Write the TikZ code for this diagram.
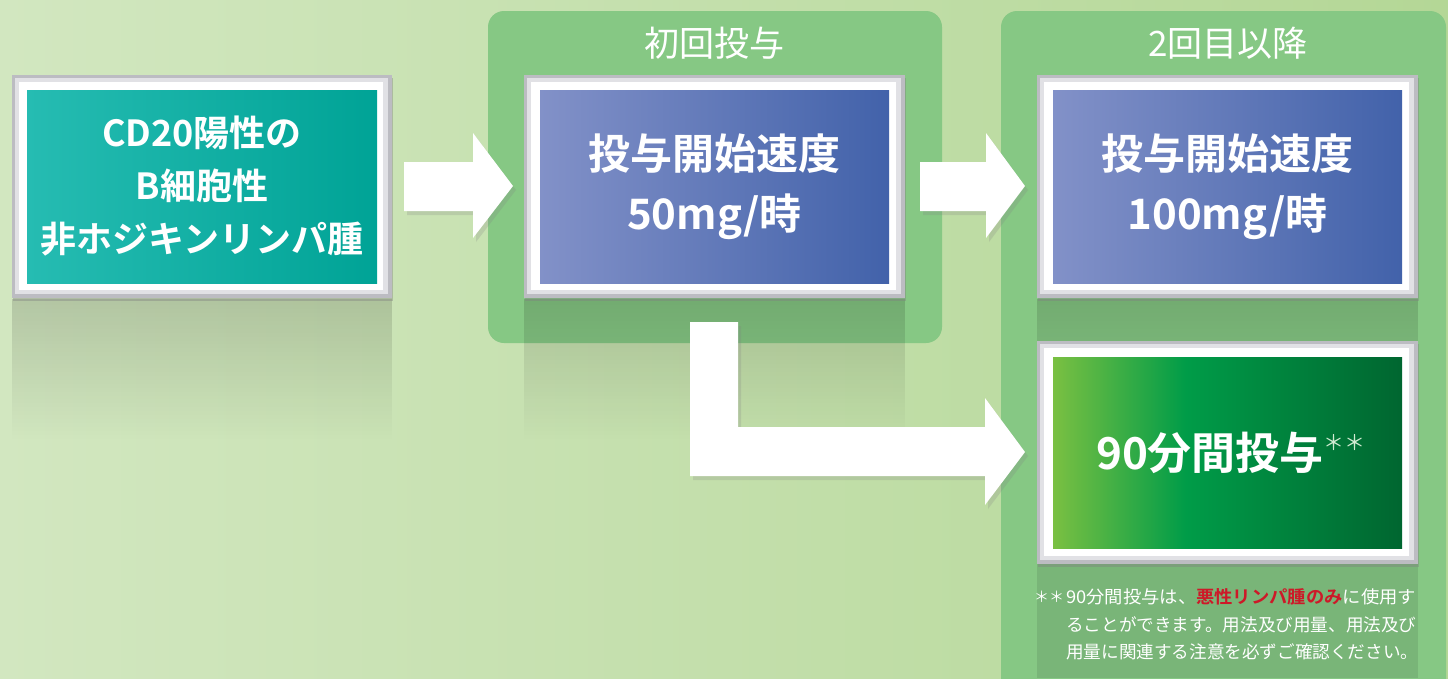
\documentclass[tikz,border=0pt]{standalone}
\usepackage{fontspec}
\setmainfont{Noto Sans CJK JP}[BoldFont={Noto Sans CJK JP Bold}]
\usetikzlibrary{shadows,fadings}
\definecolor{bgL}{RGB}{210,231,192}
\definecolor{bgR}{RGB}{180,215,150}
\definecolor{grp}{RGB}{134,200,132}
\definecolor{frdark}{RGB}{188,188,194}
\definecolor{frmid}{RGB}{225,225,229}
\definecolor{tealL}{RGB}{38,188,178}
\definecolor{tealR}{RGB}{0,163,150}
\definecolor{blueL}{RGB}{130,145,200}
\definecolor{blueR}{RGB}{66,98,170}
\definecolor{grnA}{RGB}{122,192,66}
\definecolor{grnB}{RGB}{0,156,72}
\definecolor{grnC}{RGB}{0,102,48}
\definecolor{alert}{RGB}{205,25,40}
\definecolor{starc}{RGB}{210,235,210}
\pgfdeclarehorizontalshading{grnshade}{100bp}{color(0bp)=(grnA); color(25bp)=(grnA); color(44bp)=(grnB); color(75bp)=(grnC); color(100bp)=(grnC)}
\tikzfading[name=fadedown, top color=transparent!0, bottom color=transparent!100]
\newcommand\bevelframe[4]{%
  \fill[frdark, drop shadow={shadow xshift=1pt, shadow yshift=-3pt, opacity=0.4}] (#1,#2) rectangle (#3,#4);
  \fill[frmid] (#1+3,#2+3) rectangle (#3-4,#4-4);
  \fill[white] (#1+7,#2+7) rectangle (#3-9,#4-8);
}
\begin{document}
\begin{tikzpicture}[x=1pt, y=-1pt,
  panel/.style={inner sep=0pt, minimum width=350pt, minimum height=193pt},
  boxtxt/.style={text=white, font=\bfseries\fontsize{42}{60}\selectfont, align=center, inner sep=0pt},
  grouptitle/.style={text=white, font=\fontsize{35}{35}\selectfont, inner sep=0pt},
  group/.style={fill=grp, rounded corners=16pt},
  blockarrow/.style={fill=white, drop shadow={shadow xshift=3pt, shadow yshift=-4pt, opacity=0.22}},
  refl/.style={fill=black, fill opacity=0.14, path fading=fadedown},
  note/.style={text=white, font=\fontsize{17.6}{17.6}\selectfont, anchor=west, inner sep=0pt}
]
\useasboundingbox (0,0) rectangle (1448,678);
\clip (0,0) rectangle (1448,678);
% background
\shade[left color=bgL, right color=bgR] (0,0) rectangle (1448,678);
% groups
\path[group] (488,11) rectangle (942,343);
\path[group] (1001,11) rectangle (1446,700);
% reflections
\fill[refl] (12,299) rectangle (392,440);
\fill[refl] (524,299) rectangle (905,440);
\fill[refl] (1037,299) rectangle (1418,440);
\fill[black, fill opacity=0.09] (1037,564) rectangle (1418,678);
% titles
\node[grouptitle] (t1) at (714,43) {初回投与};
\node[grouptitle] (t2) at (1228,43) {2回目以降};
% boxes
\bevelframe{12}{75}{392}{298}
\node[panel, left color=tealL, right color=tealR] (p1) at (202,186.5) {};
\bevelframe{524}{75}{905}{298}
\node[panel, minimum width=349pt, left color=blueL, right color=blueR] (p2) at (714.5,186.5) {};
\bevelframe{1037}{75}{1418}{298}
\node[panel, minimum width=349pt, left color=blueL, right color=blueR] (p3) at (1227.5,186.5) {};
\bevelframe{1037}{341}{1418}{564}
\node[panel, minimum width=349pt, minimum height=191pt, shade, shading=grnshade] (p4) at (1227.5,452.5) {};
% arrows
\fill[blockarrow] (404,162) -- (473,162) -- (473,133) -- (513,186) -- (473,238) -- (473,211) -- (404,211) -- cycle;
\fill[blockarrow] (920,162) -- (986,162) -- (986,133) -- (1025,186) -- (986,238) -- (986,211) -- (920,211) -- cycle;
\fill[blockarrow] (690,322) -- (738,322) -- (738,427) -- (985,427) -- (985,398) -- (1025,452) -- (985,505) -- (985,476) -- (690,476) -- cycle;
% box texts
\node[boxtxt, font=\bfseries\fontsize{36}{53}\selectfont] (p1t) at (p1) {CD20陽性の\\B細胞性\\非ホジキンリンパ腫};
\node[boxtxt] (p2t) at (p2) {投与開始速度\\50mg/時};
\node[boxtxt] (p3t) at (p3) {投与開始速度\\100mg/時};
\node[boxtxt, font=\bfseries\fontsize{44}{44}\selectfont] (p4t) at (1210,453) {90分間投与};
\node[text=starc, font=\fontsize{21}{21}\selectfont, anchor=west, inner sep=0pt] (p4star) at (1323,443) {＊＊};
% footnote
\node[note, font=\fontsize{15}{15}\selectfont] (fnstar) at (1034,597) {＊＊};
\node[note] (fn1) at (1066,597) {\scalebox{1.04}[1]{90分間投与は、\textcolor{alert}{\bfseries 悪性リンパ腫のみ}に使用す}};
\node[note] (fn2) at (1066,625) {ることができます。用法及び用量、用法及び};
\node[note] (fn3) at (1066,652) {用量に関連する注意を必ずご確認ください。};
\end{tikzpicture}
\end{document}
